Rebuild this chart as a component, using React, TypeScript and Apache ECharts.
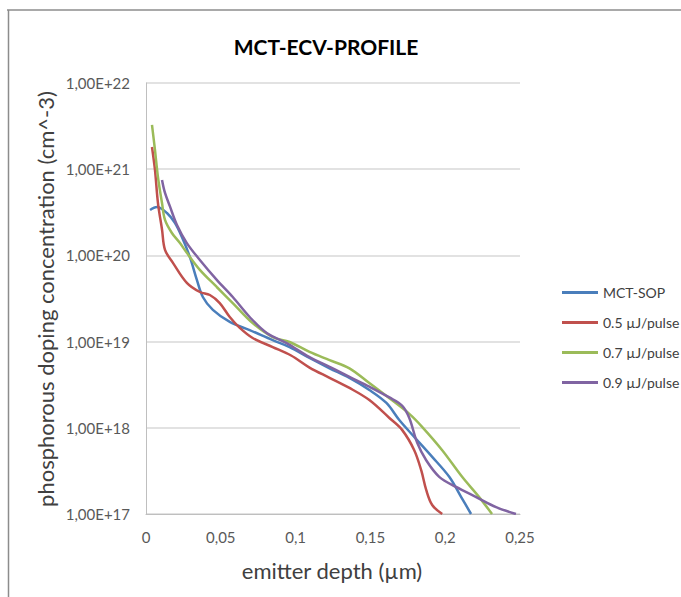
import React, { useEffect, useRef } from "react";
import * as echarts from "echarts";

const seriesNames = ["MCT-SOP", "0.5 µJ/pulse", "0.7 µJ/pulse", "0.9 µJ/pulse"];
const seriesColors = ["#4A7EBB", "#C0504D", "#9BBB59", "#8064A2"];

const xTicks = [0, 0.05, 0.1, 0.15, 0.2, 0.25];

const mctSop: [number, number][] = [
  [0.0027, 3.36e20], [0.0073, 3.64e20], [0.014, 3.1e20], [0.0193, 2.38e20],
  [0.024, 1.63e20], [0.0293, 9.6e19], [0.034, 5.2e19], [0.038, 3.29e19],
  [0.0447, 2.33e19], [0.056, 1.69e19], [0.0693, 1.36e19], [0.0847, 1.04e19],
  [0.096, 8.65e18], [0.1093, 6.45e18], [0.1227, 4.9e18], [0.136, 3.8e18],
  [0.1493, 2.75e18], [0.1607, 1.94e18], [0.1693, 1.23e18], [0.18, 7.6e17],
  [0.1913, 4.6e17], [0.2027, 2.7e17], [0.2107, 1.57e17], [0.2173, 1e17],
];

const pulse05: [number, number][] = [
  [0.004, 1.81e21], [0.006, 9.8e20], [0.008, 4.05e20], [0.0107, 2.0e20],
  [0.0127, 1.16e20], [0.018, 8.2e19], [0.0273, 4.8e19], [0.036, 3.76e19],
  [0.0427, 3.47e19], [0.0493, 2.8e19], [0.056, 1.93e19], [0.0627, 1.44e19],
  [0.0713, 1.1e19], [0.0847, 8.65e18], [0.097, 6.9e18], [0.1093, 5.0e18],
  [0.1227, 3.8e18], [0.136, 2.9e18], [0.1493, 2.1e18], [0.1627, 1.3e18],
  [0.1713, 9.4e17], [0.1793, 5.5e17], [0.184, 3.2e17], [0.1873, 1.9e17],
  [0.1913, 1.27e17], [0.198, 1e17],
];

const pulse07: [number, number][] = [
  [0.004, 3.26e21], [0.006, 1.67e21], [0.008, 8.1e20], [0.0107, 4.05e20],
  [0.0127, 2.58e20], [0.0173, 1.82e20], [0.0227, 1.39e20], [0.0273, 1.07e20],
  [0.036, 6.8e19], [0.0473, 4.3e19], [0.058, 2.8e19], [0.0713, 1.64e19],
  [0.0847, 1.13e19], [0.096, 9.9e18], [0.1093, 7.6e18], [0.1227, 6.1e18],
  [0.136, 4.9e18], [0.1493, 3.3e18], [0.1627, 2.2e18], [0.176, 1.45e18],
  [0.1847, 1.02e18], [0.198, 5.5e17], [0.2113, 2.7e17], [0.2227, 1.57e17],
  [0.2313, 1e17],
];

const pulse09: [number, number][] = [
  [0.0107, 7.5e20], [0.0127, 5.3e20], [0.016, 3.7e20], [0.0207, 2.25e20],
  [0.0273, 1.39e20], [0.036, 8.85e19], [0.0473, 5.2e19], [0.058, 3.29e19],
  [0.0693, 1.93e19], [0.0807, 1.26e19], [0.094, 9.6e18], [0.1093, 6.6e18],
  [0.1227, 5.1e18], [0.136, 3.9e18], [0.1493, 3.0e18], [0.1627, 2.25e18],
  [0.1713, 1.8e18], [0.176, 1.3e18], [0.1813, 6.7e17], [0.1873, 4.2e17],
  [0.196, 2.7e17], [0.2073, 2.06e17], [0.2207, 1.57e17], [0.234, 1.2e17],
  [0.2473, 1e17],
];

const allData = [mctSop, pulse05, pulse07, pulse09];

const FONT = "Lato, 'Open Sans', sans-serif";

export default function App() {
  const ref = useRef<HTMLDivElement>(null);
  useEffect(() => {
    if (!ref.current) return;
    const chart = echarts.init(ref.current, undefined, { renderer: "svg" });
    chart.setOption({
      animation: false,
      backgroundColor: "#ffffff",
      textStyle: { fontFamily: FONT },
      title: {
        text: "MCT-ECV-PROFILE",
        left: 321,
        top: 31,
        textAlign: "center",
        textStyle: { fontFamily: FONT, fontSize: 21, fontWeight: "bold", color: "#000000" },
      },
      grid: { left: 146, right: 161, top: 83, bottom: 83, containLabel: false },
      legend: {
        orient: "vertical",
        left: 557,
        top: 279,
        icon: "rect",
        itemWidth: 36,
        itemHeight: 3,
        itemGap: 13,
        data: seriesNames,
        textStyle: { fontFamily: FONT, fontSize: 14, color: "#404040", lineHeight: 17 },
      },
      xAxis: {
        type: "value",
        min: 0,
        max: 0.25,
        interval: 0.05,
        axisLine: { show: true, lineStyle: { color: "#BFBFBF", width: 1 } },
        axisTick: { show: false },
        splitLine: { show: false },
        axisLabel: {
          margin: 15,
          fontFamily: FONT,
          fontSize: 15,
          color: "#595959",
          formatter: (v: number) => {
            const t = xTicks.find((k) => Math.abs(k - v) < 1e-9);
            return String(t !== undefined ? t : v).replace(".", ",");
          },
        },
      },
      yAxis: {
        type: "log",
        logBase: 10,
        min: 1e17,
        max: 1e22,
        axisLine: { show: true, lineStyle: { color: "#BFBFBF", width: 1 } },
        axisTick: { show: false },
        splitLine: { show: true, lineStyle: { color: "#D9D9D9", width: 1.5 } },
        axisLabel: {
          margin: 16,
          fontFamily: FONT,
          fontSize: 15,
          color: "#595959",
          formatter: (v: number) => "1,00E+" + Math.round(Math.log10(v)),
        },
      },
      graphic: [
        {
          type: "line",
          shape: { x1: 7, y1: 10, x2: 681, y2: 10 },
          style: { stroke: "#8C8C8C", lineWidth: 1.5 },
        },
        {
          type: "line",
          shape: { x1: 8.5, y1: 10, x2: 8.5, y2: 597 },
          style: { stroke: "#8C8C8C", lineWidth: 1.5 },
        },
        {
          type: "text",
          x: 45,
          y: 299,
          rotation: Math.PI / 2,
          style: {
            text: "phosphorous doping concentration (cm^-3)",
            fontFamily: FONT,
            fontSize: 22,
            fill: "#404040",
            align: "center",
            verticalAlign: "middle",
          },
        },
        {
          type: "text",
          x: 332,
          y: 570,
          style: {
            text: "emitter depth (µm)",
            fontFamily: FONT,
            fontSize: 22,
            fill: "#404040",
            align: "center",
            verticalAlign: "middle",
          },
        },
      ],
      series: allData.map((d, i) => ({
        name: seriesNames[i],
        type: "line",
        data: d,
        smooth: 0.35,
        symbol: "none",
        color: seriesColors[i],
        lineStyle: { width: 2.5, color: seriesColors[i] },
      })),
    });
    return () => chart.dispose();
  }, []);
  return (
    <div
      ref={ref}
      style={{ position: "fixed", left: 0, top: 0, width: 681, height: 597 }}
    />
  );
}
